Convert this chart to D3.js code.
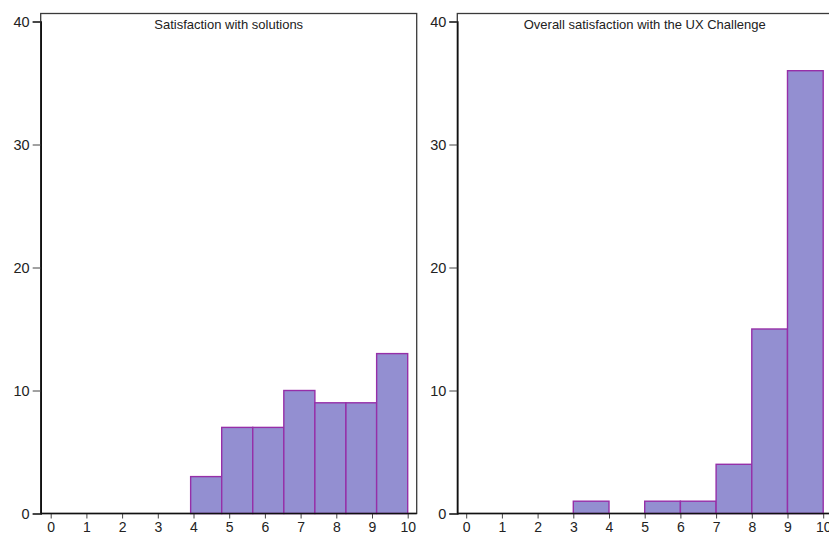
<!DOCTYPE html>
<html>
<head>
<meta charset="utf-8">
<script src="https://cdn.jsdelivr.net/npm/d3@7"></script>
<style>
  html, body { margin: 0; padding: 0; background: #fff; }
  svg { display: block; font-family: "Liberation Sans", Arial, sans-serif; }
</style>
</head>
<body>
<script>
// Datos de los dos histogramas
var titulos = ["Satisfaction with solutions", "Overall satisfaction with the UX Challenge"];
var bordesSoluciones = [3.92, 4.79, 5.66, 6.53, 7.40, 8.27, 9.13, 10];
var conteosSoluciones = [3, 7, 7, 10, 9, 9, 13];
var bordesGeneral = [3, 4, 5, 6, 7, 8, 9, 10];
var conteosGeneral = [1, 0, 1, 1, 4, 15, 36];
var ticksX = [0, 1, 2, 3, 4, 5, 6, 7, 8, 9, 10];
var ticksY = [0, 10, 20, 30, 40];

var ancho = 829, alto = 537;
var svg = d3.select("body").append("svg")
            .attr("width", ancho)
            .attr("height", alto);

// Configuración de cada panel (posición del marco)
var paneles = [
    { titulo: titulos[0], bordes: bordesSoluciones, conteos: conteosSoluciones, izq: 40.7, x0: 50.7 },
    { titulo: titulos[1], bordes: bordesGeneral, conteos: conteosGeneral, izq: 457.3, x0: 466.2 }
];

var arriba = 13.5, abajo = 513.5;
var y = d3.scaleLinear().domain([0, 40]).range([abajo, 21.5]);

paneles.forEach(function(p) {
    var x = d3.scaleLinear().domain([0, 10]).range([p.x0, p.x0 + 357]);
    var der = x(10) + 9;
    var g = svg.append("g");

    // Marco del área de trazado
    g.append("rect")
     .attr("x", p.izq).attr("y", arriba)
     .attr("width", der - p.izq).attr("height", abajo - arriba)
     .attr("fill", "none").attr("stroke", "#3a3a3a").attr("stroke-width", 1.3);

    // Barras del histograma
    var barras = p.conteos.map(function(c, i) {
        return { x0: p.bordes[i], x1: p.bordes[i + 1], n: c };
    });
    g.selectAll("rect.barra")
     .data(barras)
     .enter().append("rect")
     .attr("class", "barra")
     .attr("x", function(d) { return x(d.x0); })
     .attr("y", function(d) { return y(d.n); })
     .attr("width", function(d) { return x(d.x1) - x(d.x0); })
     .attr("height", function(d) { return abajo - y(d.n); })
     .attr("fill", "#938fd1")
     .attr("stroke", "#962fa8")
     .attr("stroke-width", 1.4);

    // Eje Y
    var ejeY = d3.axisLeft(y).tickValues(ticksY).tickSize(8).tickPadding(3);
    g.append("g")
     .attr("transform", "translate(" + p.izq + ",0)")
     .call(ejeY)
     .call(function(s) {
         s.select(".domain").attr("stroke", "#111").attr("stroke-width", 1.6);
         s.selectAll(".tick line").attr("stroke", "#444");
         s.selectAll("text").attr("font-size", "14.5px").attr("fill", "#222")
          .attr("font-family", "Liberation Sans, Arial, sans-serif");
     });

    // Eje X
    var ejeX = d3.axisBottom(x).tickValues(ticksX).tickSize(5).tickPadding(4);
    g.append("g")
     .attr("transform", "translate(0," + abajo + ")")
     .call(ejeX)
     .call(function(s) {
         s.select(".domain").remove();
         s.selectAll(".tick line").attr("stroke", "#444");
         s.selectAll("text").attr("font-size", "14px").attr("fill", "#222")
          .attr("font-family", "Liberation Sans, Arial, sans-serif");
     });
    g.append("line")
     .attr("x1", p.izq).attr("x2", der)
     .attr("y1", abajo).attr("y2", abajo)
     .attr("stroke", "#111").attr("stroke-width", 1.6);

    // Título del panel
    g.append("text")
     .attr("x", (p.izq + der) / 2)
     .attr("y", 29)
     .attr("text-anchor", "middle")
     .attr("font-size", "13px")
     .attr("fill", "#222")
     .text(p.titulo);
});
</script>
</body>
</html>
